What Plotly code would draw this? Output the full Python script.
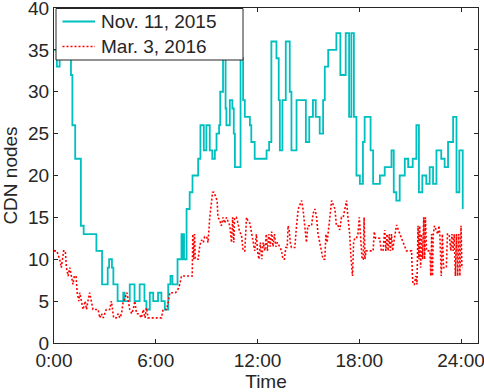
import plotly.graph_objects as go

# ---- data (time in minutes after 0:00, value = number of CDN nodes) ----
nov_t = [0, 10, 20, 60, 65, 75, 95, 105, 150, 170, 190, 195, 205, 210, 225, 245, 250, 268, 285,
         303, 320, 327, 339, 351, 368, 380, 392, 404, 412, 419, 437, 451, 454, 457, 460, 469, 480,
         490, 510, 518, 530, 539, 551, 560, 569, 575, 584, 588, 598, 607, 610, 622, 631, 636, 640,
         660, 669, 675, 693, 698, 710, 752, 761, 769, 787, 795, 799, 808, 820, 834, 840, 858, 891,
         903, 916, 926, 940, 952, 958, 970, 999, 1013, 1032, 1044, 1052, 1061, 1070, 1082, 1093,
         1099, 1120, 1129, 1153, 1170, 1194, 1202, 1211, 1223, 1241, 1253, 1269, 1282, 1291, 1303,
         1317, 1329, 1341, 1353, 1370, 1382, 1394, 1412, 1424, 1434, 1446]
nov_v = [35, 33, 35, 32, 26, 22, 14, 13, 11, 7, 9, 10, 9, 7, 5, 6, 5, 7, 5,
         7, 5, 4, 6, 5, 6, 5, 4, 7, 8, 7, 10, 13, 10, 13, 10, 16, 18,
         20, 22, 26, 23, 26, 23, 22, 23, 25, 26, 30, 36, 28, 26, 29, 28, 25, 21,
         34, 29, 27, 26, 24, 22, 23, 24, 36, 34, 29, 23, 29, 36, 30, 23, 29, 24,
         27, 29, 27, 25, 29, 33, 35, 37, 32, 37, 27, 37, 27, 20, 19, 24,
         27, 23, 19, 20, 21, 23, 18, 17, 20, 22, 21, 22, 26, 18, 20,
         19, 21, 19, 23, 22, 21, 24, 27, 18, 23, 16]

mar_t = [0, 10, 20, 26, 34, 40, 44, 50, 56, 62, 67, 72, 78, 82, 88, 91, 97, 103, 110, 115,
         120, 126, 132, 138, 144, 150, 156, 162, 168, 174, 180, 185, 192, 197, 203, 208, 211,
         220, 227, 233, 239, 245, 250, 258, 263, 268, 275, 280, 286, 292, 300, 309, 316, 322,
         327, 333, 339, 350, 360, 370, 380, 386, 392, 398, 405, 410, 415, 421, 430, 440, 445,
         451, 457, 463, 470, 480, 489, 491, 494, 497, 500, 504, 510, 516, 522, 528, 533, 540,
         545, 551, 556, 561, 566, 572, 577, 580, 586, 592, 598, 604, 610, 616, 622, 628, 632,
         636, 639, 645, 651, 657, 663, 669, 675, 681, 687, 693, 699, 704, 710, 716, 720, 725,
         730, 735, 740, 746, 751, 755, 760, 765, 770, 775, 780, 785, 790, 800, 805, 810, 815,
         820, 825, 828, 832, 836, 840, 848, 852, 858, 864, 870, 876, 881, 886, 890, 893, 898,
         904, 911, 917, 923, 929, 934, 940, 946, 952, 958, 962, 966, 970, 976, 982, 988, 994,
         999, 1005, 1011, 1017, 1023, 1029, 1035, 1040, 1046, 1051, 1056, 1060, 1064, 1070,
         1075, 1080, 1085, 1090, 1094, 1097, 1100, 1104, 1110, 1120, 1129, 1133, 1138, 1145,
         1152, 1158, 1164, 1170, 1174, 1178, 1182, 1186, 1190, 1194, 1198, 1202, 1207, 1212,
         1218, 1224, 1230, 1236, 1242, 1247, 1253, 1259, 1265, 1268, 1270, 1275, 1280, 1284,
         1288, 1291, 1294, 1297, 1300, 1304, 1308, 1311, 1314, 1318, 1324, 1330, 1333, 1336,
         1339, 1342, 1346, 1352, 1358, 1362, 1365, 1370, 1374, 1378, 1383, 1388, 1392, 1398,
         1404, 1408, 1412, 1416, 1420, 1424, 1428, 1432, 1436, 1440, 1443, 1445]
mar_v = [11, 11, 10, 9, 11, 11, 9, 8, 9, 8, 7, 8, 8, 6, 5, 6, 5, 4, 5, 4,
         5, 6, 5, 4, 4, 4, 4, 3, 3.5, 3, 3.5, 4, 4, 4, 5, 4, 3,
         3, 3.5, 3, 3.5, 5, 5.3, 6, 5, 4, 3.5, 4, 5, 3.5, 3.5, 3, 4, 3,
         4.2, 3, 3, 3, 3, 3, 3, 4, 4, 4, 5, 6, 6, 6, 6, 6.5, 7,
         8, 8, 8, 8, 8, 8, 13, 10, 13, 10, 10, 10, 11.7, 12.3, 12, 12.7, 12.7,
         12, 15, 17, 18, 18, 17.5, 17, 15, 14.7, 14, 15, 14.3, 15, 14.5, 14, 12, 15,
         12, 15, 15, 14.3, 13.2, 13, 11, 11, 15, 14.5, 14.3, 13, 12, 11, 13, 11, 10,
         12, 10, 12, 11, 13, 11, 13, 11.5, 13.3, 11.5, 13, 11.5, 12, 11.4, 11, 10, 10,
         11.4, 11.4, 14, 13.5, 12, 11.4, 11.4, 11.4, 14, 16, 16.5, 17, 16, 14, 13, 12, 14,
         14, 14, 15.5, 16, 15, 13, 12, 11, 10, 10, 13, 12, 13, 15, 17, 16.5, 16,
         14, 14, 13.5, 15, 15, 16, 17, 15, 13, 10, 8, 12, 12.5, 12.5,
         13, 15, 13, 10, 10, 15, 10, 11, 11, 11, 11, 13.3, 12.5, 12.5,
         12.5, 11, 11, 13.5, 11, 13, 11, 13, 11, 13, 11, 12, 13, 14.1,
         13.5, 13, 12.5, 12, 11.5, 11, 11, 11, 11, 8, 7, 7, 8, 7,
         14, 10, 14, 9, 13, 10, 15, 10, 15, 11, 11, 11, 8, 13,
         8, 13, 14, 13.5, 13, 14, 13, 8, 13, 9, 9, 9, 13, 13,
         11, 13, 11, 13, 8, 13, 8, 13, 8, 14, 9, 9]

series_names = ["Nov. 11, 2015", "Mar. 3, 2016"]
tick_vals = [0, 360, 720, 1080, 1440]
tick_text = ["0:00", "6:00", "12:00", "18:00", "24:00"]
y_ticks = [0, 5, 10, 15, 20, 25, 30, 35, 40]

AX = "#262626"
FONT = "Liberation Sans, Arial, Helvetica, sans-serif"
CYAN = "#00BFBF"
RED = "#FF0000"
RED_DASH = "2px,2px"

W, H = 484, 392
ML, MR, MT, MB = 54, 6, 8, 49
PW, PH = W - ML - MR, H - MT - MB


def px_x(p):  # pixel -> paper x
    return (p - ML) / PW


def px_y(p):  # pixel -> paper y
    return (H - MB - p) / PH


fig = go.Figure()
fig.add_trace(go.Scatter(x=nov_t, y=nov_v, mode="lines", name=series_names[0],
                         line=dict(color=CYAN, width=1.8, shape="hv")))
fig.add_trace(go.Scatter(x=mar_t, y=mar_v, mode="lines", name=series_names[1],
                         line=dict(color=RED, width=1.6, dash=RED_DASH)))

# legend box drawn to match the reference's compact MATLAB-style legend
shapes = [
    dict(type="rect", xref="paper", yref="paper", layer="above",
         x0=px_x(56), x1=px_x(243), y0=px_y(60), y1=px_y(8.5),
         fillcolor="white", line=dict(color=AX, width=1)),
    dict(type="line", xref="paper", yref="paper", layer="above",
         x0=px_x(62.5), x1=px_x(95), y0=px_y(21.5), y1=px_y(21.5),
         line=dict(color=CYAN, width=1.8)),
    dict(type="line", xref="paper", yref="paper", layer="above",
         x0=px_x(62.5), x1=px_x(95), y0=px_y(46.5), y1=px_y(46.5),
         line=dict(color=RED, width=1.6, dash=RED_DASH)),
]
annotations = [
    dict(text=series_names[0], xref="paper", yref="paper", x=px_x(99), y=px_y(21.5),
         xanchor="left", yanchor="middle", showarrow=False, font=dict(size=19, color=AX)),
    dict(text=series_names[1], xref="paper", yref="paper", x=px_x(99), y=px_y(46.5),
         xanchor="left", yanchor="middle", showarrow=False, font=dict(size=19, color=AX)),
]

fig.update_layout(
    template="none",
    width=W, height=H,
    margin=dict(l=ML, r=MR, t=MT, b=MB, pad=0),
    paper_bgcolor="white", plot_bgcolor="white",
    font=dict(family=FONT, size=19, color=AX),
    showlegend=False,
    shapes=shapes,
    annotations=annotations,
    xaxis=dict(range=[0, 1500], tickvals=tick_vals, ticktext=tick_text,
               ticks="inside", ticklen=4, tickcolor=AX, tickwidth=1,
               showline=True, linecolor=AX, linewidth=1, mirror="ticks",
               showgrid=False, zeroline=False, automargin=False,
               ticklabeloverflow="allow",
               tickfont=dict(size=19),
               title=dict(text="Time", standoff=0, font=dict(size=19))),
    yaxis=dict(range=[0, 40], tickvals=y_ticks,
               ticks="inside", ticklen=4, tickcolor=AX, tickwidth=1,
               showline=True, linecolor=AX, linewidth=1, mirror="ticks",
               showgrid=False, zeroline=False, automargin=False,
               ticklabeloverflow="allow",
               tickfont=dict(size=19),
               title=dict(text="CDN nodes", standoff=6, font=dict(size=19))),
)

fig.write_html("out.html")
